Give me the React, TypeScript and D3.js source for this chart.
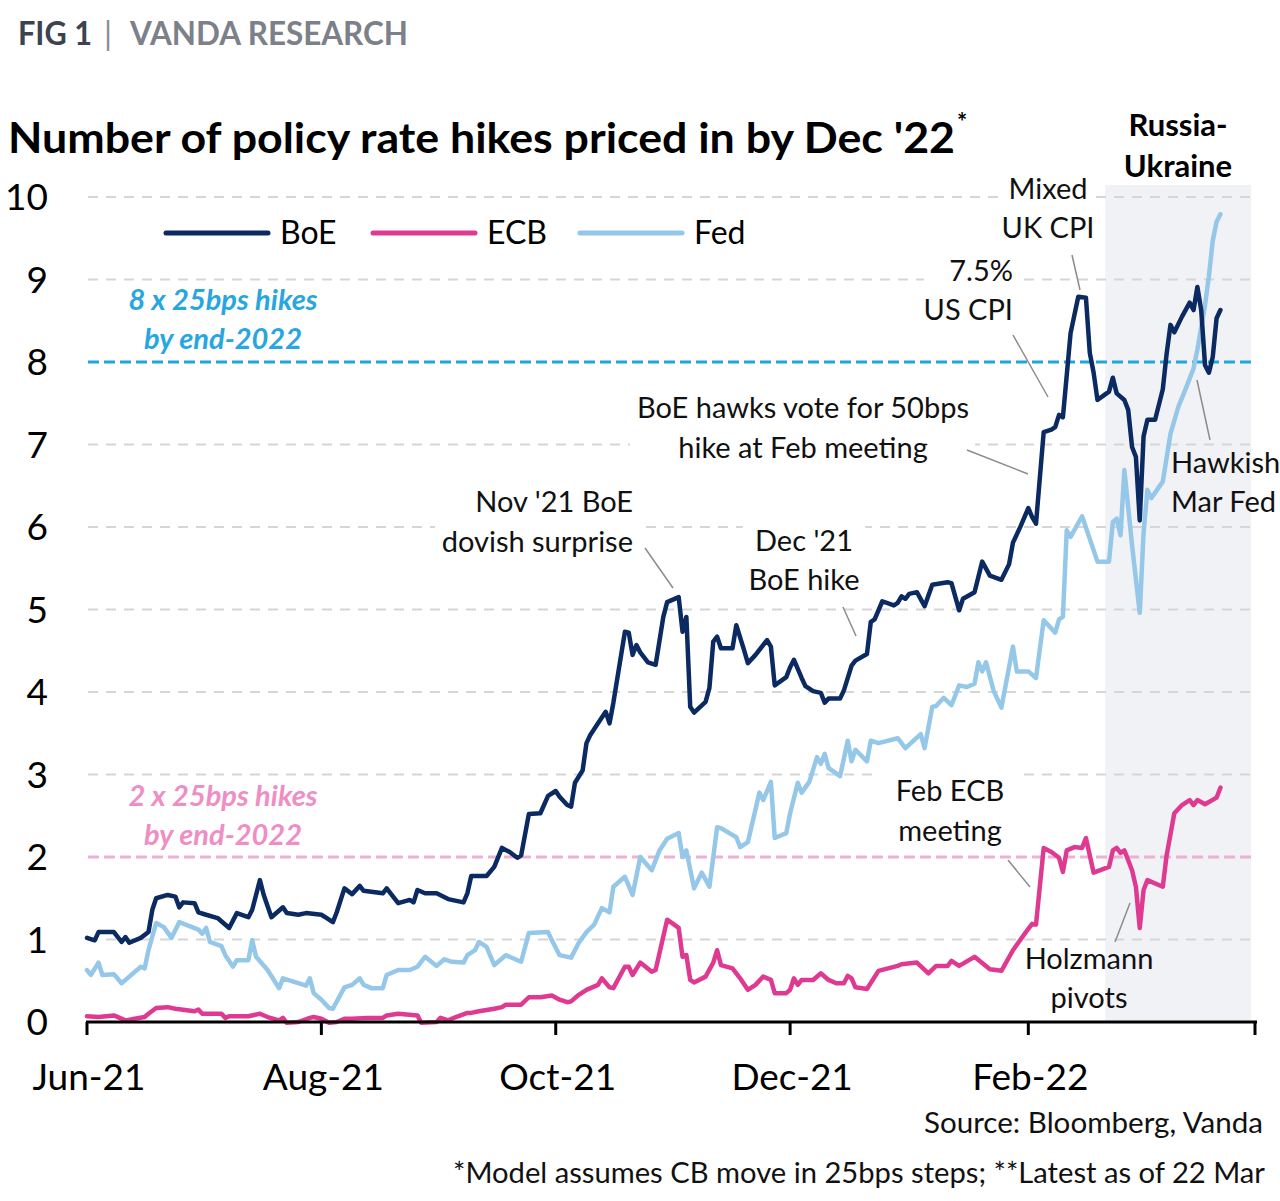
import React from "react";
import * as d3 from "d3";

type Pt = [string, number];

const boe: Pt[] = [
  ["2021-06-01",1.02],["2021-06-03",0.99],["2021-06-04",1.09],["2021-06-08",1.09],["2021-06-10",0.97],["2021-06-11",1.03],["2021-06-12",0.96],["2021-06-15",1.02],["2021-06-17",1.09],["2021-06-18",1.36],["2021-06-19",1.50],["2021-06-22",1.54],["2021-06-24",1.52],["2021-06-25",1.39],["2021-06-26",1.45],["2021-06-29",1.44],["2021-06-30",1.33],
  ["2021-07-02",1.30],["2021-07-05",1.26],["2021-07-08",1.14],["2021-07-10",1.32],["2021-07-13",1.27],["2021-07-14",1.36],["2021-07-16",1.72],["2021-07-17",1.54],["2021-07-19",1.27],["2021-07-22",1.39],["2021-07-23",1.32],["2021-07-26",1.30],["2021-07-28",1.32],
  ["2021-08-01",1.30],["2021-08-02",1.27],["2021-08-04",1.21],["2021-08-05",1.33],["2021-08-07",1.62],["2021-08-09",1.55],["2021-08-11",1.65],["2021-08-12",1.59],["2021-08-17",1.56],["2021-08-18",1.62],["2021-08-21",1.44],["2021-08-24",1.48],["2021-08-25",1.45],["2021-08-26",1.60],["2021-08-28",1.56],["2021-08-31",1.56],
  ["2021-09-03",1.49],["2021-09-07",1.45],["2021-09-08",1.56],["2021-09-09",1.77],["2021-09-13",1.77],["2021-09-15",1.88],["2021-09-17",2.11],["2021-09-19",2.06],["2021-09-21",1.99],["2021-09-22",2.02],["2021-09-24",2.52],["2021-09-27",2.53],["2021-09-29",2.74],
  ["2021-10-01",2.80],["2021-10-02",2.73],["2021-10-04",2.63],["2021-10-05",2.61],["2021-10-06",2.90],["2021-10-08",3.05],["2021-10-09",3.38],["2021-10-10",3.48],["2021-10-12",3.62],["2021-10-14",3.76],["2021-10-15",3.62],["2021-10-16",3.87],["2021-10-19",4.73],["2021-10-20",4.72],["2021-10-21",4.45],["2021-10-22",4.57],["2021-10-23",4.48],["2021-10-25",4.36],["2021-10-27",4.33],["2021-10-29",4.91],["2021-10-30",5.09],
  ["2021-11-02",5.15],["2021-11-03",4.73],["2021-11-04",4.91],["2021-11-05",3.82],["2021-11-06",3.75],["2021-11-09",3.88],["2021-11-10",4.05],["2021-11-11",4.61],["2021-11-12",4.67],["2021-11-13",4.53],["2021-11-16",4.53],["2021-11-17",4.81],["2021-11-19",4.51],["2021-11-20",4.35],["2021-11-22",4.45],["2021-11-25",4.63],["2021-11-26",4.55],["2021-11-27",4.08],["2021-11-30",4.18],
  ["2021-12-01",4.30],["2021-12-02",4.39],["2021-12-04",4.17],["2021-12-05",4.07],["2021-12-07",4.01],["2021-12-09",3.99],["2021-12-10",3.87],["2021-12-11",3.92],["2021-12-14",3.92],["2021-12-15",4.02],["2021-12-17",4.32],["2021-12-18",4.38],["2021-12-21",4.46],["2021-12-22",4.85],["2021-12-23",4.88],["2021-12-25",5.10],["2021-12-28",5.05],["2021-12-29",5.08],["2021-12-30",5.16],["2021-12-31",5.13],
  ["2022-01-01",5.19],["2022-01-03",5.21],["2022-01-05",5.04],["2022-01-07",5.30],["2022-01-11",5.33],["2022-01-12",5.32],["2022-01-14",4.99],["2022-01-15",5.13],["2022-01-18",5.21],["2022-01-20",5.58],["2022-01-22",5.41],["2022-01-25",5.36],["2022-01-27",5.55],["2022-01-28",5.81],["2022-01-30",6.01],
  ["2022-02-01",6.23],["2022-02-02",6.12],["2022-02-03",6.04],["2022-02-05",7.15],["2022-02-07",7.18],["2022-02-08",7.21],["2022-02-09",7.36],["2022-02-10",7.33],["2022-02-11",7.84],["2022-02-12",8.35],["2022-02-14",8.79],["2022-02-16",8.78],["2022-02-17",8.11],["2022-02-18",7.87],["2022-02-19",7.54],["2022-02-22",7.64],["2022-02-23",7.81],["2022-02-24",7.62],["2022-02-26",7.54],["2022-02-27",7.42],["2022-02-28",6.97],
  ["2022-03-01",6.85],["2022-03-02",6.08],["2022-03-03",7.10],["2022-03-04",7.30],["2022-03-06",7.30],["2022-03-08",7.67],["2022-03-09",8.10],["2022-03-10",8.45],["2022-03-11",8.36],["2022-03-13",8.55],["2022-03-15",8.72],["2022-03-16",8.63],["2022-03-17",8.91],["2022-03-18",8.63],["2022-03-19",7.96],["2022-03-20",7.87],["2022-03-21",8.06],["2022-03-22",8.53],["2022-03-23",8.63],
];

const fed: Pt[] = [
  ["2021-06-01",0.63],["2021-06-02",0.57],["2021-06-04",0.72],["2021-06-05",0.57],["2021-06-08",0.58],["2021-06-10",0.47],["2021-06-12",0.55],["2021-06-15",0.67],["2021-06-16",0.65],["2021-06-17",0.87],["2021-06-19",1.20],["2021-06-21",1.15],["2021-06-23",1.02],["2021-06-25",1.21],["2021-06-30",1.12],
  ["2021-07-01",1.07],["2021-07-02",1.14],["2021-07-03",0.97],["2021-07-06",0.92],["2021-07-07",0.81],["2021-07-09",0.67],["2021-07-10",0.75],["2021-07-13",0.75],["2021-07-14",0.99],["2021-07-15",0.79],["2021-07-18",0.63],["2021-07-21",0.41],["2021-07-22",0.53],["2021-07-26",0.47],["2021-07-28",0.44],["2021-07-29",0.53],["2021-07-30",0.35],
  ["2021-08-01",0.27],["2021-08-03",0.17],["2021-08-04",0.16],["2021-08-07",0.42],["2021-08-09",0.45],["2021-08-11",0.53],["2021-08-12",0.45],["2021-08-14",0.41],["2021-08-17",0.41],["2021-08-18",0.57],["2021-08-21",0.63],["2021-08-24",0.63],["2021-08-26",0.67],["2021-08-28",0.79],["2021-08-31",0.68],
  ["2021-09-02",0.76],["2021-09-04",0.73],["2021-09-07",0.72],["2021-09-08",0.81],["2021-09-10",0.87],["2021-09-11",0.97],["2021-09-13",0.91],["2021-09-15",0.69],["2021-09-18",0.81],["2021-09-22",0.73],["2021-09-24",1.08],["2021-09-29",1.09],["2021-09-30",0.99],
  ["2021-10-02",0.81],["2021-10-05",0.78],["2021-10-07",0.96],["2021-10-09",1.09],["2021-10-11",1.18],["2021-10-13",1.38],["2021-10-15",1.33],["2021-10-16",1.64],["2021-10-19",1.76],["2021-10-21",1.54],["2021-10-23",2.00],["2021-10-26",1.84],["2021-10-28",2.08],["2021-10-30",2.22],
  ["2021-11-02",2.29],["2021-11-03",2.00],["2021-11-04",2.08],["2021-11-06",1.62],["2021-11-08",1.81],["2021-11-10",1.64],["2021-11-12",2.36],["2021-11-13",2.35],["2021-11-17",2.24],["2021-11-18",2.12],["2021-11-20",2.18],["2021-11-23",2.78],["2021-11-24",2.69],["2021-11-26",2.91],["2021-11-27",2.23],["2021-11-30",2.29],
  ["2021-12-01",2.53],["2021-12-03",2.90],["2021-12-04",2.78],["2021-12-06",2.91],["2021-12-08",3.21],["2021-12-09",3.13],["2021-12-10",3.25],["2021-12-11",3.08],["2021-12-14",2.98],["2021-12-16",3.41],["2021-12-17",3.16],["2021-12-18",3.30],["2021-12-21",3.16],["2021-12-22",3.41],["2021-12-24",3.38],["2021-12-29",3.44],["2021-12-31",3.32],
  ["2022-01-04",3.49],["2022-01-05",3.32],["2022-01-07",3.82],["2022-01-08",3.83],["2022-01-10",3.93],["2022-01-12",3.84],["2022-01-14",4.08],["2022-01-16",4.06],["2022-01-18",4.10],["2022-01-19",4.36],["2022-01-20",4.25],["2022-01-21",4.36],["2022-01-23",4.01],["2022-01-25",3.81],["2022-01-28",4.55],["2022-01-29",4.25],
  ["2022-02-01",4.25],["2022-02-03",4.17],["2022-02-05",4.87],["2022-02-08",4.72],["2022-02-09",4.88],["2022-02-10",4.91],["2022-02-11",5.96],["2022-02-12",5.88],["2022-02-15",6.13],["2022-02-19",5.58],["2022-02-22",5.58],["2022-02-23",6.06],["2022-02-24",6.10],["2022-02-25",5.90],["2022-02-26",6.69],["2022-02-27",6.24],["2022-02-28",5.78],
  ["2022-03-02",4.96],["2022-03-03",5.93],["2022-03-04",6.45],["2022-03-05",6.35],["2022-03-08",6.55],["2022-03-09",6.84],["2022-03-10",7.13],["2022-03-12",7.45],["2022-03-14",7.68],["2022-03-16",7.92],["2022-03-17",8.15],["2022-03-19",8.69],["2022-03-20",9.04],["2022-03-21",9.47],["2022-03-22",9.70],["2022-03-23",9.79],
];

const ecb: Pt[] = [
  ["2021-06-01",0.07],["2021-06-04",0.06],["2021-06-08",0.08],["2021-06-11",0.02],["2021-06-16",0.06],["2021-06-17",0.10],["2021-06-19",0.17],["2021-06-22",0.18],["2021-06-24",0.16],["2021-06-29",0.13],["2021-06-30",0.15],
  ["2021-07-01",0.10],["2021-07-06",0.10],["2021-07-07",0.05],["2021-07-08",0.07],["2021-07-13",0.07],["2021-07-16",0.10],["2021-07-18",0.06],["2021-07-21",0.02],["2021-07-22",0.05],["2021-07-23",-0.01],["2021-07-26",0.00],["2021-07-29",0.05],["2021-07-30",0.06],
  ["2021-08-01",0.04],["2021-08-03",-0.01],["2021-08-05",0.00],["2021-08-07",0.04],["2021-08-09",0.04],["2021-08-13",0.05],["2021-08-17",0.05],["2021-08-18",0.08],["2021-08-21",0.10],["2021-08-26",0.08],["2021-08-27",-0.01],["2021-08-31",0.00],
  ["2021-09-01",0.05],["2021-09-03",0.02],["2021-09-05",0.06],["2021-09-08",0.11],["2021-09-09",0.11],["2021-09-11",0.13],["2021-09-15",0.16],["2021-09-17",0.18],["2021-09-18",0.21],["2021-09-22",0.21],["2021-09-24",0.30],["2021-09-27",0.30],["2021-09-30",0.32],
  ["2021-10-02",0.27],["2021-10-04",0.24],["2021-10-05",0.25],["2021-10-07",0.33],["2021-10-09",0.39],["2021-10-12",0.45],["2021-10-13",0.53],["2021-10-15",0.42],["2021-10-16",0.41],["2021-10-19",0.67],["2021-10-20",0.67],["2021-10-21",0.57],["2021-10-23",0.72],["2021-10-26",0.61],["2021-10-27",0.63],["2021-10-30",1.24],
  ["2021-11-02",1.14],["2021-11-03",0.79],["2021-11-04",0.81],["2021-11-05",0.51],["2021-11-06",0.48],["2021-11-09",0.55],["2021-11-11",0.72],["2021-11-12",0.87],["2021-11-13",0.69],["2021-11-16",0.65],["2021-11-18",0.53],["2021-11-20",0.39],["2021-11-22",0.45],["2021-11-24",0.55],["2021-11-26",0.51],["2021-11-27",0.35],["2021-11-30",0.35],
  ["2021-12-01",0.39],["2021-12-02",0.53],["2021-12-03",0.45],["2021-12-04",0.51],["2021-12-07",0.51],["2021-12-09",0.59],["2021-12-11",0.51],["2021-12-13",0.47],["2021-12-15",0.47],["2021-12-16",0.56],["2021-12-17",0.53],["2021-12-18",0.42],["2021-12-21",0.40],["2021-12-24",0.62],["2021-12-29",0.68],["2021-12-30",0.70],
  ["2022-01-03",0.72],["2022-01-06",0.59],["2022-01-08",0.68],["2022-01-11",0.68],["2022-01-12",0.74],["2022-01-14",0.68],["2022-01-18",0.79],["2022-01-22",0.64],["2022-01-25",0.62],["2022-01-28",0.87],
  ["2022-02-01",1.13],["2022-02-02",1.19],["2022-02-03",1.18],["2022-02-05",2.11],["2022-02-07",2.06],["2022-02-09",1.99],["2022-02-10",1.82],["2022-02-11",2.08],["2022-02-13",2.12],["2022-02-15",2.11],["2022-02-16",2.23],["2022-02-18",1.81],["2022-02-22",1.88],["2022-02-23",2.08],["2022-02-24",2.11],["2022-02-25",2.05],["2022-02-26",2.08],["2022-02-28",1.84],
  ["2022-03-01",1.64],["2022-03-02",1.14],["2022-03-03",1.60],["2022-03-04",1.72],["2022-03-08",1.64],["2022-03-09",2.02],["2022-03-11",2.53],["2022-03-13",2.63],["2022-03-15",2.69],["2022-03-16",2.63],["2022-03-17",2.69],["2022-03-19",2.64],["2022-03-22",2.72],["2022-03-23",2.84],
];

const yTicks = [0, 1, 2, 3, 4, 5, 6, 7, 8, 9, 10];
const xTickDates = ["2021-06-01", "2021-08-01", "2021-10-01", "2021-12-01", "2022-02-01", "2022-04-01"];
const xTickLabels = ["Jun-21", "Aug-21", "Oct-21", "Dec-21", "Feb-22", ""];
const shadeRange = ["2022-02-21", "2022-03-31"];
const refLevels = [8, 2];

const seriesNames = ["BoE", "ECB", "Fed"];
const seriesColors = ["#0b2a62", "#df3a91", "#94c7e8"];

const FONT = "Lato, Carlito, Calibri, 'Open Sans', sans-serif";
const parse = d3.timeParse("%Y-%m-%d");

export default function App() {
  const x = d3.scaleTime().domain([parse("2021-06-01")!, parse("2022-04-01")!]).range([87, 1255]);
  const y = d3.scaleLinear().domain([0, 10]).range([1022, 197]);
  const line = d3
    .line<Pt>()
    .x((d) => x(parse(d[0])!))
    .y((d) => y(d[1]));

  const series: [Pt[], string][] = [
    [fed, seriesColors[2]],
    [ecb, seriesColors[1]],
    [boe, seriesColors[0]],
  ];

  const gridX0 = 88;
  const gridX1 = 1254;

  const masks = [
    [1000, 176, 96, 70],
    [924, 256, 94, 70],
    [630, 392, 345, 72],
    [435, 487, 205, 72],
    [743, 525, 122, 72],
    [880, 772, 140, 76],
  ];

  const ann = {
    fontFamily: FONT,
    fontSize: 29,
    fill: "#111",
  } as const;

  const leaders = [
    [1072, 255, 1080, 290],
    [1013, 335, 1048, 397],
    [967, 450, 1028, 474],
    [645, 548, 673, 588],
    [843, 607, 856, 636],
    [1197, 380, 1210, 440],
    [1008, 860, 1030, 887],
    [1130, 903, 1115, 942],
  ];

  return (
    <svg
      width={1280}
      height={1201}
      style={{ position: "absolute", left: 0, top: 0, background: "#fff" }}
    >
      <rect x={0} y={0} width={1280} height={1201} fill="#fff" />
      {/* header */}
      <g fontFamily={FONT} fontWeight={700} fontSize={32}>
        <text x={18} y={45} fill="#3c4350" textLength={74} lengthAdjust="spacingAndGlyphs">FIG 1</text>
        <text x={104} y={45} fill="#8a8e96" fontWeight={400}>|</text>
        <text x={130} y={45} fill="#7c8089" textLength={278} lengthAdjust="spacingAndGlyphs">VANDA RESEARCH</text>
      </g>
      <text x={8} y={153} fontFamily={FONT} fontWeight={700} fontSize={42} fill="#000" textLength={947} lengthAdjust="spacingAndGlyphs">
        Number of policy rate hikes priced in by Dec '22
      </text>
      <text x={957} y={131} fontFamily={FONT} fontWeight={700} fontSize={24} fill="#000">*</text>

      {/* shaded Russia-Ukraine region */}
      <rect
        x={x(parse(shadeRange[0])!)}
        y={185}
        width={x(parse(shadeRange[1])!) - x(parse(shadeRange[0])!)}
        height={1022 - 185}
        fill="#f1f2f5"
      />

      {/* grid */}
      {yTicks
        .filter((t) => t > 0 && !refLevels.includes(t))
        .map((t) => (
          <line
            key={t}
            x1={gridX0}
            x2={gridX1}
            y1={y(t)}
            y2={y(t)}
            stroke="#d6d6d6"
            strokeWidth={2}
            strokeDasharray="10,8"
          />
        ))}

      {/* text masks */}
      {masks.map((m, i) => (
        <rect key={i} x={m[0]} y={m[1]} width={m[2]} height={m[3]} fill="#fff" />
      ))}

      {/* reference lines */}
      <line x1={gridX0} x2={gridX1} y1={y(refLevels[0])} y2={y(refLevels[0])} stroke="#22a5de" strokeWidth={3} strokeDasharray="11,5" />
      <line x1={gridX0} x2={gridX1} y1={y(refLevels[1])} y2={y(refLevels[1])} stroke="#efb0d4" strokeWidth={3} strokeDasharray="11,5" />

      {/* y tick labels */}
      {yTicks.map((t) => (
        <text key={t} x={48} y={y(t) + 13} textAnchor="end" fontFamily={FONT} fontSize={37} fill="#000">
          {t}
        </text>
      ))}

      {/* series */}
      {series.map(([data, color], i) => (
        <path
          key={i}
          d={line(data) || ""}
          fill="none"
          stroke={color}
          strokeWidth={4.5}
          strokeLinejoin="round"
          strokeLinecap="round"
        />
      ))}

      {/* x axis */}
      <line x1={86} x2={1257} y1={1022} y2={1022} stroke="#000" strokeWidth={3} />
      {xTickDates.map((d, i) => {
        const xx = x(parse(d)!);
        return (
          <g key={d}>
            <line x1={xx} x2={xx} y1={1022} y2={1035} stroke="#000" strokeWidth={3} />
            <text x={xx + 2} y={1090} textAnchor="middle" fontFamily={FONT} fontSize={37} fill="#000">
              {xTickLabels[i]}
            </text>
          </g>
        );
      })}

      {/* legend */}
      {seriesNames.map((n, i) => {
        const lx = 166 + i * 207;
        return (
          <g key={n}>
            <line x1={lx} x2={lx + 102} y1={233} y2={233} stroke={seriesColors[i]} strokeWidth={5} strokeLinecap="round" />
            <text x={lx + 114} y={244} fontFamily={FONT} fontSize={32} fill="#000">
              {n}
            </text>
          </g>
        );
      })}

      {/* reference labels */}
      <g fontFamily={FONT} fontWeight={700} fontStyle="italic" fontSize={29} textAnchor="middle">
        <text x={223} y={310} fill="#27a6e0">8 x 25bps hikes</text>
        <text x={223} y={349} fill="#27a6e0">by end-2022</text>
        <text x={223} y={806} fill="#ee8ec4">2 x 25bps hikes</text>
        <text x={223} y={845} fill="#ee8ec4">by end-2022</text>
      </g>

      {/* Russia-Ukraine label */}
      <g fontFamily={FONT} fontWeight={700} fontSize={31} textAnchor="middle" fill="#000">
        <text x={1178} y={136}>Russia-</text>
        <text x={1178} y={177}>Ukraine</text>
      </g>

      {/* leader lines */}
      {leaders.map((l, i) => (
        <line key={i} x1={l[0]} y1={l[1]} x2={l[2]} y2={l[3]} stroke="#8c8c8c" strokeWidth={1.5} />
      ))}

      {/* annotations */}
      <g {...ann} textAnchor="middle">
        <text x={1048} y={199}>Mixed</text>
        <text x={1048} y={238}>UK CPI</text>
        <text x={803} y={418}>BoE hawks vote for 50bps</text>
        <text x={803} y={458}>hike at Feb meeting</text>
        <text x={804} y={551}>Dec '21</text>
        <text x={804} y={590}>BoE hike</text>
        <text x={950} y={801}>Feb ECB</text>
        <text x={950} y={841}>meeting</text>
        <text x={1089} y={969}>Holzmann</text>
        <text x={1089} y={1008}>pivots</text>
      </g>
      <g {...ann} textAnchor="end">
        <text x={1013} y={281}>7.5%</text>
        <text x={1013} y={320}>US CPI</text>
        <text x={633} y={512}>Nov '21 BoE</text>
        <text x={633} y={552}>dovish surprise</text>
      </g>
      <g {...ann} textAnchor="start">
        <text x={1171} y={473}>Hawkish</text>
        <text x={1171} y={512}>Mar Fed</text>
      </g>

      {/* footer */}
      <g fontFamily={FONT} fontSize={29} fill="#111">
        <text x={924} y={1133} textLength={339} lengthAdjust="spacingAndGlyphs">Source: Bloomberg, Vanda</text>
        <text x={453} y={1183} textLength={812} lengthAdjust="spacingAndGlyphs">*Model assumes CB move in 25bps steps; **Latest as of 22 Mar</text>
      </g>
    </svg>
  );
}
